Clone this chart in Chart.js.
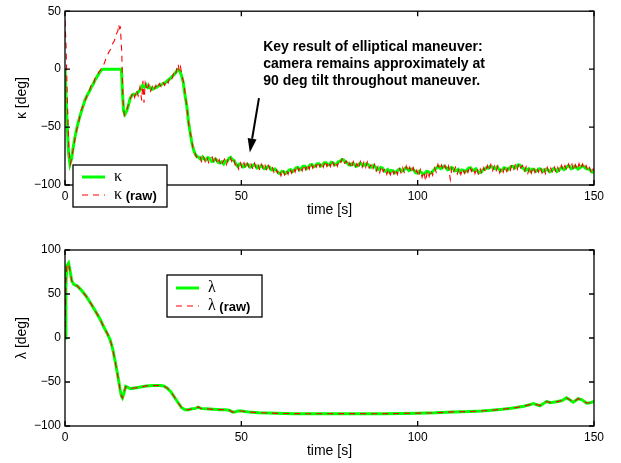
<!DOCTYPE html>
<html>
<head>
<meta charset="utf-8">
<script src="https://cdn.jsdelivr.net/npm/chart.js@4.4.1/dist/chart.umd.min.js"></script>
<style>
  body { margin: 0; background: #fff; }
  #wrap { position: relative; width: 621px; height: 463px; }
  canvas { position: absolute; left: 0; }
  #kappaChart { top: 0; }
  #lambdaChart { top: 231px; }
</style>
</head>
<body>
<div id="wrap">
  <canvas id="kappaChart" width="621" height="231"></canvas>
  <canvas id="lambdaChart" width="621" height="232"></canvas>
</div>
<script>
// ---- kappa (tilt) : filtered estimate ----
const kappaTime = [0, 0.5, 1.0, 1.4, 1.9, 2.3, 2.8, 3.5, 4.2, 5.0, 5.7, 6.4, 7.1, 7.5, 7.8, 8.5, 9.2, 9.9, 10.5, 11,
  16, 16.3, 16.6, 17, 17.5, 18, 18.5, 19, 19.5, 20, 20.5, 21, 21.5, 22, 22.5, 23, 23.5, 24, 24.5, 25,
  25.5, 26, 26.5, 27, 27.5, 28, 28.5, 29, 29.5, 30, 30.5, 31, 31.5, 32, 32.5, 33, 33.5, 34, 34.5, 35,
  35.5, 36, 36.5, 37, 37.5,
  38, 38.5, 39, 39.5, 40, 40.5, 41, 41.5, 42, 42.5,
  43, 43.5, 44, 44.5, 45, 45.5, 46, 46.5, 47, 47.5,
  48, 48.5, 49, 49.5, 50, 50.5, 51, 51.5, 52, 52.5,
  53, 53.5, 54, 54.5, 55, 55.5, 56, 56.5, 57, 57.5,
  58, 58.5, 59, 59.5, 60, 60.5, 61, 61.5, 62, 62.5,
  63, 63.5, 64, 64.5, 65, 65.5, 66, 66.5, 67, 67.5,
  68, 68.5, 69, 69.5, 70, 70.5, 71, 71.5, 72, 72.5,
  73, 73.5, 74, 74.5, 75, 75.5, 76, 76.5, 77, 77.5,
  78, 78.5, 79, 79.5, 80, 80.5, 81, 81.5, 82, 82.5,
  83, 83.5, 84, 84.5, 85, 85.5, 86, 86.5, 87, 87.5,
  88, 88.5, 89, 89.5, 90, 90.5, 91, 91.5, 92, 92.5,
  93, 93.5, 94, 94.5, 95, 95.5, 96, 96.5, 97, 97.5,
  98, 98.5, 99, 99.5, 100, 100.5, 101, 101.5, 102, 102.5,
  103, 103.5, 104, 104.5, 105, 105.5, 106, 106.5, 107, 107.5,
  108, 108.5, 109, 109.5, 110, 110.5, 111, 111.5, 112, 112.5,
  113, 113.5, 114, 114.5, 115, 115.5, 116, 116.5, 117, 117.5,
  118, 118.5, 119, 119.5, 120, 120.5, 121, 121.5, 122, 122.5,
  123, 123.5, 124, 124.5, 125, 125.5, 126, 126.5, 127, 127.5,
  128, 128.5, 129, 129.5, 130, 130.5, 131, 131.5, 132, 132.5,
  133, 133.5, 134, 134.5, 135, 135.5, 136, 136.5, 137, 137.5,
  138, 138.5, 139, 139.5, 140, 140.5, 141, 141.5, 142, 142.5,
  143, 143.5, 144, 144.5, 145, 145.5, 146, 146.5, 147, 147.5,
  148, 148.5, 149, 149.5, 150];
const kappaFilt = [0, -40, -72, -82, -77, -68, -59, -49, -41, -33, -26.5, -22, -18, -15.5, -14, -9.6, -6, -2.5, -0.3, 0,
  0, -20, -36, -39, -36, -31, -25, -22.5, -21.5, -22, -20.5, -19, -17, -14, -15.5, -13.5, -16, -15.5, -17.5, -17,
  -16, -15.8, -14.5, -14, -13, -12.5, -11.5, -10, -9, -7.5, -6, -4.5, -2.5, -0.5, -1.5, -5, -11, -22, -31, -45,
  -55, -64, -70, -74, -75.5,
  -76.5, -78.0, -75.8, -77.6, -78.2, -76.4, -77.1, -79.5, -79.6, -77.6,
  -78.4, -80.6, -80.9, -79.9, -81.8, -79.4, -79.5, -77.1, -76.2, -78.3,
  -78.9, -82.3, -84.1, -81.9, -82.3, -84.5, -84.0, -82.1, -82.6, -84.6,
  -84.4, -82.6, -83.1, -85.4, -85.2, -83.5, -83.8, -86.0, -85.9, -84.1,
  -84.7, -86.9, -87.0, -86.1, -87.6, -89.5, -90.3, -88.2, -88.4, -90.0,
  -89.1, -87.1, -86.8, -88.5, -87.2, -85.2, -84.9, -86.9, -85.8, -83.9,
  -83.9, -85.9, -84.6, -82.6, -82.4, -84.3, -83.5, -81.6, -81.6, -83.7,
  -82.8, -80.9, -80.9, -82.9, -82.2, -80.3, -80.8, -82.6, -81.9, -79.8,
  -79.6, -78.1, -78.3, -80.4, -80.7, -82.6, -82.9, -81.3, -82.1, -84.0,
  -83.4, -81.6, -81.5, -83.4, -82.7, -81.6, -82.4, -84.7, -84.6, -83.2,
  -84.3, -86.8, -86.5, -84.9, -85.4, -87.9, -88.0, -86.7, -88.9, -87.4,
  -87.8, -89.5, -88.6, -86.9, -86.4, -88.1, -87.3, -85.5, -85.6, -87.6,
  -86.9, -86.0, -87.5, -89.6, -89.8, -88.1, -88.9, -90.7, -90.1, -88.2,
  -88.4, -90.0, -89.2, -87.3, -86.3, -84.6, -84.0, -85.9, -85.1, -83.8,
  -84.8, -86.9, -86.6, -84.9, -85.4, -87.8, -87.5, -86.5, -88.8, -87.0,
  -87.4, -88.6, -86.9, -85.3, -85.2, -87.4, -87.1, -86.0, -87.9, -89.3,
  -88.9, -86.9, -86.6, -85.0, -85.5, -83.9, -84.1, -85.9, -86.0, -84.5,
  -86.2, -87.8, -87.1, -85.2, -85.7, -87.0, -85.6, -83.9, -83.8, -85.4,
  -84.3, -82.6, -82.8, -84.9, -85.6, -87.5, -86.7, -85.9, -88.1, -86.3,
  -86.6, -88.2, -87.3, -85.9, -86.4, -88.2, -88.0, -86.3, -87.1, -88.6,
  -87.6, -85.9, -86.5, -88.3, -87.4, -85.6, -85.1, -86.7, -85.3, -83.8,
  -83.6, -85.9, -85.4, -83.8, -84.9, -86.3, -85.2, -83.6, -83.7, -85.3,
  -86.0, -86.3, -87.2, -88.9, -88.3];

// ---- kappa : raw measurement ----
const kappaRawTime = [0, 0.3, 0.7, 1.1, 1.5, 2.0, 2.5, 3.0, 3.5, 4.0, 4.5, 5.0, 5.5, 6.0, 6.5, 7.0, 7.5, 8.0, 8.5, 9.0,
  9.5, 10.0, 10.5, 11.0, 11.5, 12.0, 12.5, 13.0, 13.5, 14.0, 14.5, 15.0, 15.2, 15.5, 15.7, 15.9, 16.1, 16.4, 16.8, 17.25,
  17.75, 18.25, 18.75, 19.25, 19.75, 20.25, 20.75, 21.25, 21.75, 22.1, 22.4, 22.75, 23.25, 23.75, 24.25, 24.75, 25.25, 25.75, 26.25, 26.75,
  27.25, 27.75, 28.25, 28.75, 29.25, 29.75, 30.25, 30.75, 31.25, 31.75, 32.1, 32.4, 32.75, 33.25, 33.75, 34.25, 34.75, 35.25, 35.75, 36.25,
  36.75, 37.25, 37.75,
  38.25, 38.75, 39.25, 39.75, 40.25, 40.75, 41.25, 41.75, 42.25, 42.75,
  43.25, 43.75, 44.25, 44.75, 45.25, 45.75, 46.25, 46.75, 47.25, 47.75,
  48.25, 48.75, 49.25, 49.75, 50.25, 50.75, 51.25, 51.75, 52.25, 52.75,
  53.25, 53.75, 54.25, 54.75, 55.25, 55.75, 56.25, 56.75, 57.25, 57.75,
  58.25, 58.75, 59.25, 59.75, 60.25, 60.75, 61.25, 61.75, 62.25, 62.75,
  63.25, 63.75, 64.25, 64.75, 65.25, 65.75, 66.25, 66.75, 67.25, 67.75,
  68.25, 68.75, 69.25, 69.75, 70.25, 70.75, 71.25, 71.75, 72.25, 72.75,
  73.25, 73.75, 74.25, 74.75, 75.25, 75.75, 76.25, 76.75, 77.25, 77.75,
  78.25, 78.75, 79.25, 79.75, 80.25, 80.75, 81.25, 81.75, 82.25, 82.75,
  83.25, 83.75, 84.25, 84.75, 85.25, 85.75, 86.25, 86.75, 87.25, 87.75,
  88.25, 88.75, 89.25, 89.75, 90.25, 90.75, 91.25, 91.75, 92.25, 92.75,
  93.25, 93.75, 94.25, 94.75, 95.25, 95.75, 96.25, 96.75, 97.25, 97.75,
  98.25, 98.75, 99.25, 99.75, 100.25, 100.75, 101.25, 101.75, 102.25, 102.75,
  103.25, 103.75, 104.25, 104.75, 105.25, 105.75, 106.25, 106.75, 107.25, 107.75,
  108.25, 108.75, 109.25, 109.75, 110.25, 110.75, 111.25, 111.75, 112.25, 112.75,
  113.25, 113.75, 114.25, 114.75, 115.25, 115.75, 116.25, 116.75, 117.25, 117.75,
  118.25, 118.75, 119.25, 119.75, 120.25, 120.75, 121.25, 121.75, 122.25, 122.75,
  123.25, 123.75, 124.25, 124.75, 125.25, 125.75, 126.25, 126.75, 127.25, 127.75,
  128.25, 128.75, 129.25, 129.75, 130.25, 130.75, 131.25, 131.75, 132.25, 132.75,
  133.25, 133.75, 134.25, 134.75, 135.25, 135.75, 136.25, 136.75, 137.25, 137.75,
  138.25, 138.75, 139.25, 139.75, 140.25, 140.75, 141.25, 141.75, 142.25, 142.75,
  143.25, 143.75, 144.25, 144.75, 145.25, 145.75, 146.25, 146.75, 147.25, 147.75,
  148.25, 148.75, 149.25, 149.75, 150];
const kappaRaw = [42, 20, -30, -70, -82, -75, -66, -57, -50, -44, -36, -33, -28, -25, -20.5, -18, -13, -14, -8, -7,
  -3, -1, 2, 4, 8, 12, 15, 17.5, 22, 24.5, 30, 33, 38.5, 35, 36, 25, 14, -25, -40, -37.5,
  -33, -27, -24, -20, -24.5, -18, -23, -15.5, -27, -10, -29, -12, -18.5, -13, -19, -15, -18.5, -14, -17, -12.5,
  -15, -11, -14, -9.5, -12, -7, -9, -4, -6, 1, 4.5, -2, 2, -7, -13, -26, -38, -52, -58, -68,
  -71, -76, -73.5,
  -74.8, -79.6, -75.1, -79.9, -76.0, -80.8, -77.2, -75.9, -81.4, -77.0,
  -81.9, -78.2, -83.7, -80.1, -77.6, -82.5, -77.9, -74.8, -79.6, -76.5,
  -82.6, -79.8, -86.3, -81.0, -85.9, -80.9, -85.6, -81.4, -85.8, -81.9,
  -86.1, -81.2, -86.4, -82.8, -87.2, -82.1, -86.8, -83.0, -87.9, -83.2,
  -87.5, -84.3, -88.9, -85.4, -89.6, -86.4, -92.1, -87.0, -91.3, -86.9,
  -90.8, -85.8, -89.7, -85.0, -88.8, -83.4, -87.5, -83.9, -87.8, -82.4,
  -86.8, -82.1, -86.4, -80.9, -85.3, -81.0, -84.6, -79.9, -84.2, -80.4,
  -84.7, -79.1, -83.9, -79.7, -84.1, -78.6, -83.2, -79.8, -83.7, -77.9,
  -80.4, -76.6, -81.2, -79.3, -84.1, -80.8, -85.6, -79.9, -84.8, -81.6,
  -85.9, -79.7, -84.6, -80.3, -84.9, -80.1, -85.3, -82.6, -87.1, -82.2,
  -87.9, -84.1, -89.3, -83.6, -88.5, -85.6, -90.8, -85.9, -91.2, -86.3,
  -90.4, -86.2, -90.9, -84.7, -89.5, -84.9, -89.8, -83.7, -88.6, -84.6,
  -89.3, -85.0, -90.6, -87.1, -92.8, -86.7, -93.4, -88.2, -96.8, -87.9,
  -92.7, -86.8, -91.6, -85.1, -88.9, -82.2, -86.7, -82.6, -87.4, -83.1,
  -87.9, -83.7, -95.2, -84.0, -88.1, -84.6, -90.3, -85.2, -91.0, -85.9,
  -89.9, -85.4, -89.2, -83.6, -88.1, -84.8, -90.2, -85.1, -91.4, -86.2,
  -90.5, -85.0, -89.1, -83.2, -87.9, -82.4, -87.6, -83.5, -88.3, -83.6,
  -89.4, -84.9, -89.0, -83.8, -88.3, -84.1, -87.4, -82.2, -86.3, -81.9,
  -86.5, -81.0, -85.2, -83.1, -88.4, -84.2, -89.9, -84.6, -89.7, -84.1,
  -89.1, -84.7, -88.9, -84.3, -89.6, -85.0, -90.1, -84.9, -89.8, -85.4,
  -89.3, -84.6, -89.5, -84.8, -88.7, -83.1, -87.5, -83.2, -87.0, -81.9,
  -86.3, -82.1, -87.6, -82.6, -86.9, -81.6, -86.2, -81.9, -86.4, -83.2,
  -88.1, -84.9, -90.2, -86.1, -87.6];

// ---- lambda (pan) : filtered and raw share one time base ----
const lambdaTime = [0, 0.25, 0.5, 1.0, 1.5, 1.9, 2.5, 3.5, 4.5, 6.0,
  7.5, 9, 10, 11, 12, 12.8, 13.5, 14.3, 15.1, 15.6,
  16.0, 16.3, 16.7, 17.2, 17.8, 18.5, 19.4, 21, 23, 25,
  27, 28, 29, 30, 31, 32, 33, 34, 35, 36,
  37, 37.8, 38.5, 40, 42, 44, 45.5, 46.5, 47.5, 48.2,
  49, 50, 52, 55, 60, 65, 70, 80, 90, 100,
  105, 110, 115, 118, 121, 124, 126, 128, 130, 132,
  132.8, 134.7, 136.6, 137.5, 139.4, 141, 142.2, 143, 144.1, 145.5,
  146.5, 147.9, 149, 150];
const lambdaFilt = [0, 60, 82, 85, 75, 65, 61, 59, 55, 47.5,
  38, 28, 21, 12.5, 5, -2, -12, -28, -46, -58,
  -66, -68, -63, -55, -56, -57.5, -57, -56, -54.5, -54,
  -54, -54.5, -57, -61, -67, -73, -79, -81.5, -81.5, -80.5,
  -80, -78.5, -80, -80.5, -81, -81.5, -81.5, -82, -84, -84,
  -83, -83, -84, -85, -85.5, -86, -86, -86, -86, -85.5,
  -85, -84, -83.5, -83, -82, -81, -80, -79, -77.5, -75.5,
  -74.5, -77, -72, -73.5, -72.5, -71, -68, -70, -73, -69,
  -70, -74, -73.5, -72];
const lambdaRaw = [0, 61, 82.5, 84.6, 74.8, 65.3, 60.7, 59.2, 54.8, 47.6,
  38.2, 27.8, 21.1, 12.3, 5.2, -2.1, -11.8, -28.2, -45.8, -58.3,
  -65.8, -68.2, -62.7, -55.2, -55.8, -57.6, -56.9, -56.1, -54.4, -54.1,
  -53.9, -54.6, -56.9, -61.1, -66.8, -73.2, -78.8, -81.6, -81.4, -80.6,
  -79.9, -78.3, -80.1, -80.4, -81.1, -81.4, -81.7, -81.8, -84.2, -83.8,
  -83.1, -82.9, -84.1, -84.9, -85.6, -85.9, -86.1, -85.9, -86.1, -85.4,
  -85.1, -83.9, -83.6, -82.9, -82.1, -80.9, -80.1, -78.9, -77.6, -75.4,
  -74.6, -76.8, -72.2, -73.4, -72.6, -70.9, -68.2, -69.8, -73.1, -68.9,
  -70.2, -73.8, -73.6, -72.1];

const noteLines = ['Key result of elliptical maneuver:', 'camera remains approximately at', '90 deg tilt throughout maneuver.'];

const GREEN = '#00ff00';
const RED = '#ff0000';
const SANS = '"Liberation Sans", Arial, sans-serif';

Chart.defaults.font.family = SANS;
Chart.defaults.color = '#000';

function pts(xs, ys) {
  return xs.map((x, i) => ({ x: x, y: ys[i] }));
}

// axes box with inward tick marks on all four sides
const frame = {
  id: 'frame',
  afterDatasetsDraw(chart) {
    const { ctx, chartArea: a, scales: { x, y } } = chart;
    ctx.save();
    ctx.strokeStyle = '#000';
    ctx.lineWidth = 1.3;
    ctx.beginPath();
    x.ticks.forEach(t => {
      const px = x.getPixelForValue(t.value);
      ctx.moveTo(px, a.bottom); ctx.lineTo(px, a.bottom - 5);
      ctx.moveTo(px, a.top); ctx.lineTo(px, a.top + 5);
    });
    y.ticks.forEach(t => {
      const py = y.getPixelForValue(t.value);
      ctx.moveTo(a.left, py); ctx.lineTo(a.left + 5, py);
      ctx.moveTo(a.right, py); ctx.lineTo(a.right - 5, py);
    });
    ctx.stroke();
    ctx.strokeRect(a.left, a.top, a.right - a.left, a.bottom - a.top);
    ctx.restore();
  }
};

// boxed legend, Greek symbol in serif like the rest of the figure labels
const boxLegend = {
  id: 'boxLegend',
  afterDraw(chart, args, o) {
    if (!o || !o.box) return;
    const ctx = chart.ctx;
    const [bx, by, bw, bh] = o.box;
    ctx.save();
    ctx.fillStyle = '#fff';
    ctx.fillRect(bx, by, bw, bh);
    ctx.strokeStyle = '#000';
    ctx.lineWidth = 1.3;
    ctx.strokeRect(bx, by, bw, bh);
    chart.data.datasets.forEach((ds, i) => {
      const ly = by + o.rows[i];
      ctx.strokeStyle = ds.borderColor;
      ctx.lineWidth = ds.borderWidth;
      ctx.setLineDash(ds.borderDash || []);
      ctx.beginPath();
      ctx.moveTo(bx + 9, ly);
      ctx.lineTo(bx + 32, ly);
      ctx.stroke();
      ctx.setLineDash([]);
      ctx.fillStyle = '#000';
      ctx.textBaseline = 'middle';
      ctx.font = '16px "Liberation Serif", serif';
      const sym = ds.label.charAt(0);
      ctx.fillText(sym, bx + 41, ly);
      const w = ctx.measureText(sym).width;
      ctx.font = 'bold 13px ' + SANS;
      ctx.fillText(ds.label.slice(1), bx + 41 + w, ly + 1);
    });
    ctx.restore();
  }
};

// text callout with an arrow pointing at the settled tilt
const callout = {
  id: 'callout',
  afterDraw(chart, args, o) {
    if (!o || !o.lines) return;
    const { ctx, scales: { x, y } } = chart;
    ctx.save();
    ctx.fillStyle = '#000';
    ctx.font = 'bold 14px ' + SANS;
    ctx.textBaseline = 'middle';
    const tx = x.getPixelForValue(o.at[0]);
    const ty = y.getPixelForValue(o.at[1]);
    o.lines.forEach((s, i) => ctx.fillText(s, tx, ty + i * 17));

    const x0 = x.getPixelForValue(o.arrowFrom[0]), y0 = y.getPixelForValue(o.arrowFrom[1]);
    const x1 = x.getPixelForValue(o.arrowTo[0]), y1 = y.getPixelForValue(o.arrowTo[1]);
    const ang = Math.atan2(y1 - y0, x1 - x0);
    const head = 14, half = 4.5;
    const hx = x1 - head * Math.cos(ang), hy = y1 - head * Math.sin(ang);
    ctx.strokeStyle = '#000';
    ctx.lineWidth = 2;
    ctx.beginPath();
    ctx.moveTo(x0, y0);
    ctx.lineTo(hx, hy);
    ctx.stroke();
    ctx.beginPath();
    ctx.moveTo(x1, y1);
    ctx.lineTo(hx + half * Math.sin(ang), hy - half * Math.cos(ang));
    ctx.lineTo(hx - half * Math.sin(ang), hy + half * Math.cos(ang));
    ctx.closePath();
    ctx.fill();
    ctx.restore();
  }
};

function panelOptions(o) {
  return {
    responsive: false,
    animation: false,
    layout: { padding: { top: o.padTop, right: 27, left: 0, bottom: 0 } },
    plugins: {
      legend: { display: false },
      tooltip: { enabled: false },
      boxLegend: o.legend,
      callout: o.callout || {}
    },
    scales: {
      x: {
        type: 'linear', min: 0, max: 150,
        grid: { display: false, drawTicks: false },
        border: { display: false },
        ticks: { stepSize: 50, padding: 4, maxRotation: 0, font: { size: 12 }, color: '#000' },
        title: { display: true, text: 'time [s]', font: { size: 14 }, color: '#000', padding: { top: 0, bottom: o.xTitlePad } },
        afterFit(s) { s.height = o.xAxisHeight; }
      },
      y: {
        type: 'linear', min: o.yMin, max: o.yMax,
        grid: { display: false, drawTicks: false },
        border: { display: false },
        ticks: { stepSize: 50, padding: 4, font: { size: 12 }, color: '#000', callback: v => String(v).replace('-', '\u2212') },
        title: { display: true, text: o.yTitle, font: { size: 14 }, color: '#000', padding: { top: 14, bottom: 0 } },
        afterFit(s) { s.width = 65; }
      }
    }
  };
}

function lineSet(label, data, color, width, dash, order) {
  return {
    label: label, data: data, borderColor: color, backgroundColor: color,
    borderWidth: width, borderDash: dash, pointRadius: 0, tension: 0, order: order
  };
}

new Chart(document.getElementById('kappaChart'), {
  type: 'line',
  data: {
    datasets: [
      lineSet('\u03ba', pts(kappaTime, kappaFilt), GREEN, 3, [], 1),
      lineSet('\u03ba (raw)', pts(kappaRawTime, kappaRaw), RED, 1.1, [6, 5], 0)
    ]
  },
  options: panelOptions({
    padTop: 8, xAxisHeight: 46, xTitlePad: 12, yMin: -100, yMax: 50, yTitle: '\u03ba [deg]',
    legend: { box: [73, 165, 94, 42], rows: [12, 30] },
    callout: { lines: noteLines, at: [56.2, 18.6], arrowFrom: [55.0, -25], arrowTo: [52.4, -72] }
  }),
  plugins: [frame, boxLegend, callout]
});

new Chart(document.getElementById('lambdaChart'), {
  type: 'line',
  data: {
    datasets: [
      lineSet('\u03bb', pts(lambdaTime, lambdaFilt), GREEN, 3, [], 1),
      lineSet('\u03bb (raw)', pts(lambdaTime, lambdaRaw), RED, 1.1, [6, 5], 0)
    ]
  },
  options: panelOptions({
    padTop: 19, xAxisHeight: 37, xTitlePad: 3, yMin: -100, yMax: 100, yTitle: '\u03bb [deg]',
    legend: { box: [167, 44, 95, 42], rows: [13, 31] }
  }),
  plugins: [frame, boxLegend, callout]
});
</script>
</body>
</html>
